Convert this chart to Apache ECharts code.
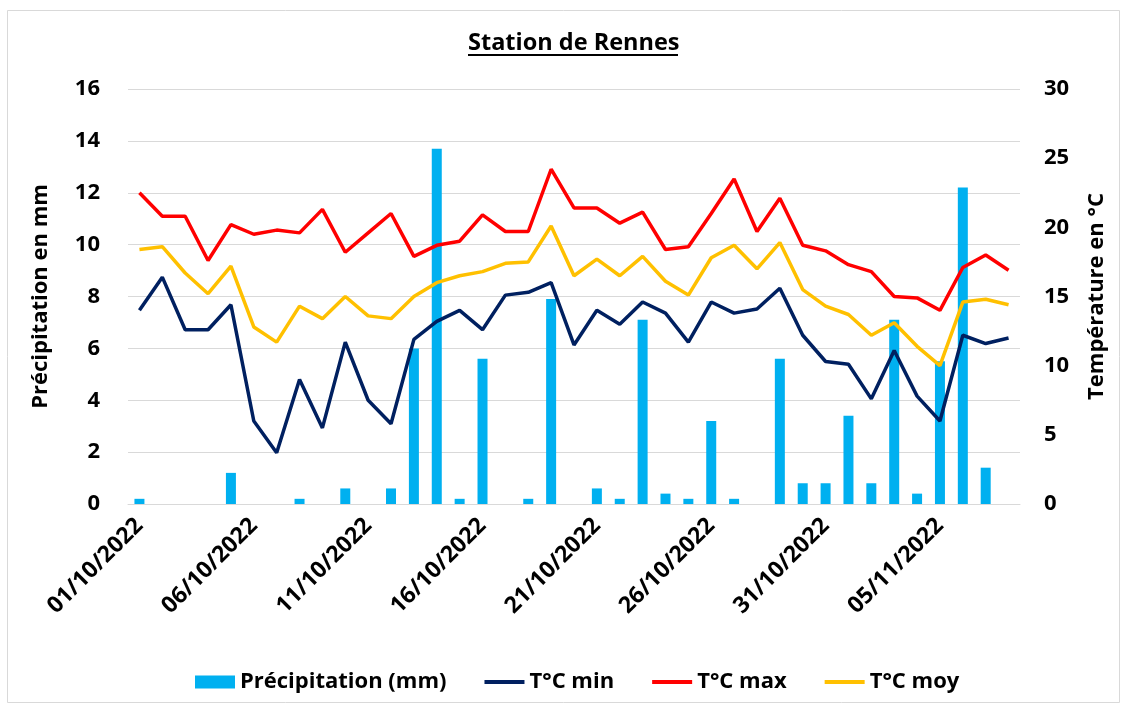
<!DOCTYPE html>
<html>
<head>
<meta charset="utf-8">
<script src="https://cdn.jsdelivr.net/npm/echarts@6/dist/echarts.min.js"></script>
<style>
  html, body { margin: 0; padding: 0; background: #fff; }
  #chart { width: 1128px; height: 710px; }
</style>
</head>
<body>
<div id="chart"></div>
<script>
// jours du 01/10/2022 au 08/11/2022
var dates = [];
for (var i = 0; i < 39; i++) {
  var d = new Date(2022, 9, 1 + i);
  dates.push(('0' + d.getDate()).slice(-2) + '/' + ('0' + (d.getMonth() + 1)).slice(-2) + '/' + d.getFullYear());
}

var precipitation = [0.2, 0, 0, 0, 1.2, 0, 0, 0.2, 0, 0.6, 0, 0.6, 6.0, 13.7, 0.2, 5.6, 0, 0.2, 7.9, 0,
  0.6, 0.2, 7.1, 0.4, 0.2, 3.2, 0.2, 0, 5.6, 0.8, 0.8, 3.4, 0.8, 7.1, 0.4, 5.5, 12.2, 1.4, 0];
var tMin = [14.0, 16.4, 12.6, 12.6, 14.4, 6.0, 3.7, 9.0, 5.5, 11.7, 7.5, 5.8, 11.9, 13.2, 14.0, 12.6, 15.1, 15.3, 16.0, 11.5,
  14.0, 13.0, 14.6, 13.8, 11.7, 14.6, 13.8, 14.1, 15.6, 12.2, 10.3, 10.1, 7.6, 11.1, 7.8, 6.0, 12.2, 11.6, 12.0];
var tMax = [22.5, 20.8, 20.8, 17.6, 20.2, 19.5, 19.8, 19.6, 21.3, 18.2, 19.6, 21.0, 17.9, 18.7, 19.0, 20.9, 19.7, 19.7, 24.2, 21.4,
  21.4, 20.3, 21.1, 18.4, 18.6, 21.0, 23.5, 19.7, 22.1, 18.7, 18.3, 17.3, 16.8, 15.0, 14.9, 14.0, 17.1, 18.0, 16.9];
var tMoy = [18.4, 18.6, 16.7, 15.2, 17.2, 12.8, 11.7, 14.3, 13.4, 15.0, 13.6, 13.4, 15.0, 16.0, 16.5, 16.8, 17.4, 17.5, 20.1, 16.5,
  17.7, 16.5, 17.9, 16.1, 15.1, 17.8, 18.7, 17.0, 18.9, 15.5, 14.3, 13.7, 12.2, 13.1, 11.4, 10.0, 14.6, 14.8, 14.4];

var FONT = '"Open Sans", "Noto Sans", sans-serif';
var FS = 22;
var txt = { fontSize: FS, fontWeight: 'bold', color: '#000', fontFamily: FONT };
var LINE_ICON = 'path://M0 0H40V4H0Z';

var chart = echarts.init(document.getElementById('chart'));

var option = {
  animation: false,
  backgroundColor: '#fff',
  textStyle: { fontFamily: FONT },
  graphic: [{
    type: 'rect',
    shape: { x: 7.5, y: 10.5, width: 1112, height: 692 },
    style: { fill: 'none', stroke: '#d9d9d9', lineWidth: 1 },
    silent: true
  }, {
    // soulignement du titre
    type: 'line',
    shape: { x1: 468, y1: 55, x2: 678, y2: 55 },
    style: { stroke: '#000', lineWidth: 2 },
    silent: true
  }],
  title: {
    text: 'Station de Rennes',
    left: 463,
    top: 26,
    textStyle: { fontSize: 23.5, fontWeight: 'bold', color: '#000', fontFamily: FONT }
  },
  legend: {
    bottom: 12,
    left: 190,
    itemGap: 38,
    itemWidth: 40,
    itemHeight: 13,
    textStyle: txt,
    data: [
      { name: 'Précipitation (mm)', icon: 'rect' },
      { name: 'T°C min', icon: LINE_ICON },
      { name: 'T°C max', icon: LINE_ICON },
      { name: 'T°C moy', icon: LINE_ICON }
    ]
  },
  grid: { left: 128, right: 108, top: 89, bottom: 206 },
  xAxis: {
    type: 'category',
    data: dates,
    boundaryGap: true,
    axisLine: { lineStyle: { color: '#d9d9d9', width: 1 } },
    axisTick: { show: false },
    axisLabel: Object.assign({ interval: 4, rotate: 45, margin: 18 }, txt, { fontSize: 23 })
  },
  yAxis: [{
    type: 'value',
    min: 0,
    max: 16,
    interval: 2,
    name: 'Précipitation en mm',
    nameLocation: 'middle',
    nameGap: 76,
    nameTextStyle: txt,
    axisLine: { show: false },
    axisTick: { show: false },
    axisLabel: Object.assign({ margin: 28 }, txt),
    splitLine: { lineStyle: { color: '#d9d9d9', width: 1 } }
  }, {
    type: 'value',
    min: 0,
    max: 30,
    interval: 5,
    name: 'Température en °C',
    nameLocation: 'middle',
    nameGap: 66,
    nameTextStyle: txt,
    axisLine: { show: false },
    axisTick: { show: false },
    axisLabel: Object.assign({ margin: 24 }, txt),
    splitLine: { show: false }
  }],
  series: [{
    name: 'Précipitation (mm)',
    type: 'bar',
    yAxisIndex: 0,
    barWidth: 10,
    itemStyle: { color: '#00B0F0' },
    data: precipitation
  }, {
    name: 'T°C min',
    type: 'line',
    yAxisIndex: 1,
    symbol: 'none',
    lineStyle: { color: '#002060', width: 3.5 },
    itemStyle: { color: '#002060' },
    data: tMin
  }, {
    name: 'T°C max',
    type: 'line',
    yAxisIndex: 1,
    symbol: 'none',
    lineStyle: { color: '#FF0000', width: 3.5 },
    itemStyle: { color: '#FF0000' },
    data: tMax
  }, {
    name: 'T°C moy',
    type: 'line',
    yAxisIndex: 1,
    symbol: 'none',
    lineStyle: { color: '#FFC000', width: 3.5 },
    itemStyle: { color: '#FFC000' },
    data: tMoy
  }]
};

chart.setOption(option);
</script>
</body>
</html>
